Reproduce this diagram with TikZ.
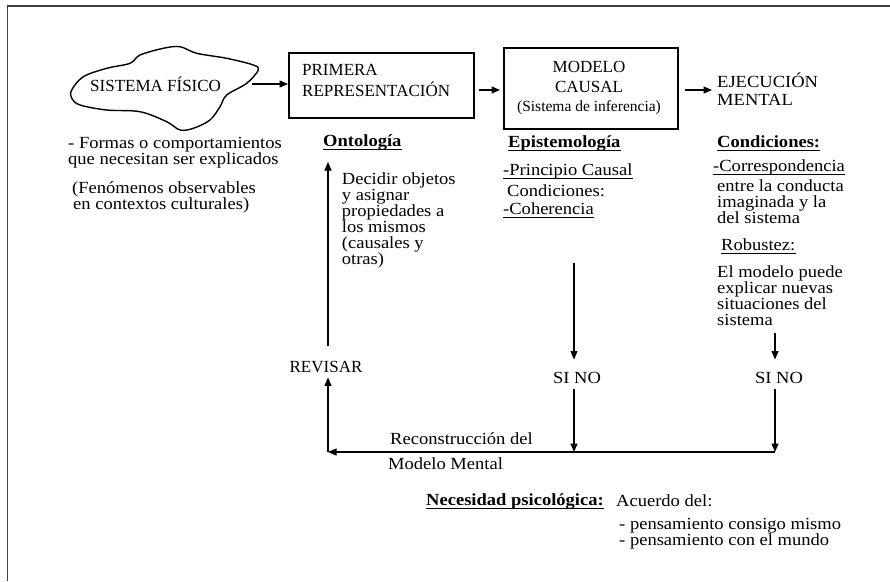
\documentclass[tikz,border=0pt]{standalone}
\usepackage{fontspec}
\setmainfont{Liberation Serif}
\newfontfamily\bodyfont{Liberation Serif}[FakeStretch=1.09]
\usetikzlibrary{arrows.meta,calc}
\begin{document}
\begin{tikzpicture}[x=1pt,y=-1pt,
  txt/.style={inner sep=0pt, font=\bodyfont\fontsize{17}{16}\selectfont, anchor=base west},
  boxtxt/.style={inner sep=0pt, font=\fontsize{17}{16}\selectfont, anchor=base west},
  hdr/.style={txt, font=\bodyfont\fontsize{17}{16}\selectfont\bfseries},
  arr/.style={line width=1.2pt, -{Triangle[length=8.5pt,width=7pt]}},
  ul/.style={line width=1.1pt},
  boxn/.style={draw, line width=1.5pt, inner sep=0pt, anchor=north west},
  framel/.style={line width=1.6pt, draw=black!75}]
\useasboundingbox (0,0) rectangle (890,581);
\draw[framel] (7.5,581) -- (7.5,6) -- (890,6);

% cloud
\draw[line width=1.4pt, line join=round] plot[smooth cycle, tension=0.55] coordinates {
 (71.7,90) (83.3,76.7) (106.7,68.3) (130,63.3) (140,55) (163.3,48.3) (180,46.7)
 (196.7,53.3) (226.7,58.3) (253.3,65) (258.3,70) (246.7,83.3) (226.7,95) (220,106.7)
 (210,120) (193.3,128.3) (180,130) (166.7,121.7) (140,111.7) (106.7,110) (80,105) (71.7,98.3)};
\node[boxtxt] (sf) at (90,91) {SISTEMA FÍSICO};
\coordinate (cr) at (252,84);

% boxes
\node[boxn, minimum width=185pt, minimum height=65pt] (b1) at (288,52) {};
\node[boxtxt] (b1a) at (302,75) {PRIMERA};
\node[boxtxt] (b1b) at (302,96) {REPRESENTACIÓN};
\node[boxn, minimum width=174pt, minimum height=81pt] (b2) at (503,47) {};
\node[boxtxt, anchor=base] (b2a) at (589,72) {MODELO};
\node[boxtxt, anchor=base] (b2b) at (589,92) {CAUSAL};
\node[boxtxt, anchor=base, font=\fontsize{15.5}{16}\selectfont] (b2c) at (589,111) {(Sistema de inferencia)};
\node[txt] (ej1) at (717,87) {EJECUCIÓN};
\node[txt] (ej2) at (717,105) {MENTAL};

\coordinate (m1) at (0,84);
\coordinate (m2) at (0,90);
\draw[arr] (cr) -- (b1.west |- m1);
\draw[arr, shorten <=4pt, shorten >=3pt] (b1.east |- m2) -- (b2.west |- m2);
\draw[arr, shorten <=6pt, shorten >=5pt] (b2.east |- m2) -- (ej1.west |- m2);

% left column
\node[txt] (f1) at (68,148) {- Formas o comportamientos};
\node[txt] (f2) at (68,164) {que necesitan ser explicados};
\node[txt] (f3) at (72,193) {(Fenómenos observables};
\node[txt] (f4) at (73,209) {en contextos culturales)};

% ontologia column
\node[hdr] (ont) at (323,146) {Ontología};
\node[txt] (d1) at (341.7,184) {Decidir objetos};
\node[txt] (d2) at (341.7,200) {y asignar};
\node[txt] (d3) at (341.7,216) {propiedades a};
\node[txt] (d4) at (341.7,232) {los mismos};
\node[txt] (d5) at (341.7,248) {(causales y};
\node[txt] (d6) at (341.7,264) {otras)};

% epistemologia column
\node[hdr] (epi) at (508,147) {Epistemología};
\node[txt] (pc) at (503,175) {-Principio Causal};
\node[txt] (ec) at (507,196) {Condiciones:};
\node[txt] (coh) at (503,214) {-Coherencia};

% right column
\node[hdr] (cond) at (717,147) {Condiciones:};
\node[txt] (corr) at (713,171) {-Correspondencia};
\node[txt] (r1) at (717,191) {entre la conducta};
\node[txt] (r2) at (717,207) {imaginada y la};
\node[txt] (r3) at (717,223) {del sistema};
\node[txt] (rob) at (721,250) {Robustez:};
\node[txt] (r4) at (717,277) {El modelo puede};
\node[txt] (r5) at (717,293) {explicar nuevas};
\node[txt] (r6) at (717,309) {situaciones del};
\node[txt] (r7) at (717,325) {sistema};

\foreach \n in {ont,epi,cond,pc,coh,corr,rob}
  \draw[ul] ([yshift=-3.5pt]\n.base west) -- ([yshift=-3.5pt]\n.base east);

% lower part
\node[txt, anchor=base, font=\fontsize{17}{16}\selectfont] (rev) at (326,372) {REVISAR};
\node[txt, anchor=base] (s1) at (577,383) {SI NO};
\node[txt, anchor=base] (s2) at (779,383) {SI NO};

\coordinate (upS) at (328,346);
\coordinate (upE) at (328,162);
\draw[arr] (upS) -- (upE);

\coordinate (a1top) at (574,263);
\coordinate (a2top) at (775,333);
\coordinate (bl) at (328,452);
\coordinate (br) at (775,452);
\draw[arr, shorten >=12pt] (a1top) -- (a1top |- s1.north);
\draw[arr, shorten >=12pt] (a2top) -- (a2top |- s2.north);
\draw[arr, shorten <=6pt] (a1top |- s1.south) -- (a1top |- bl);
\draw[arr, shorten <=6pt] (a2top |- s2.south) -- (br);
\draw[arr] (br) -- (bl);
\draw[arr, shorten >=5pt] (bl) -- (bl |- rev.south);

\node[txt] (rc1) at (390,444) {Reconstrucción del};
\node[txt] (rc2) at (388,469) {Modelo Mental};

\node[hdr] (nec) at (426,505) {Necesidad psicológica:};
\draw[ul] ([yshift=-3.5pt]nec.base west) -- ([yshift=-3.5pt]nec.base east);
\node[txt] (ac) at (616,506) {Acuerdo del:};
\node[txt] (p1) at (619,529) {- pensamiento consigo mismo};
\node[txt] (p2) at (619,545) {- pensamiento con el mundo};
\end{tikzpicture}
\end{document}
